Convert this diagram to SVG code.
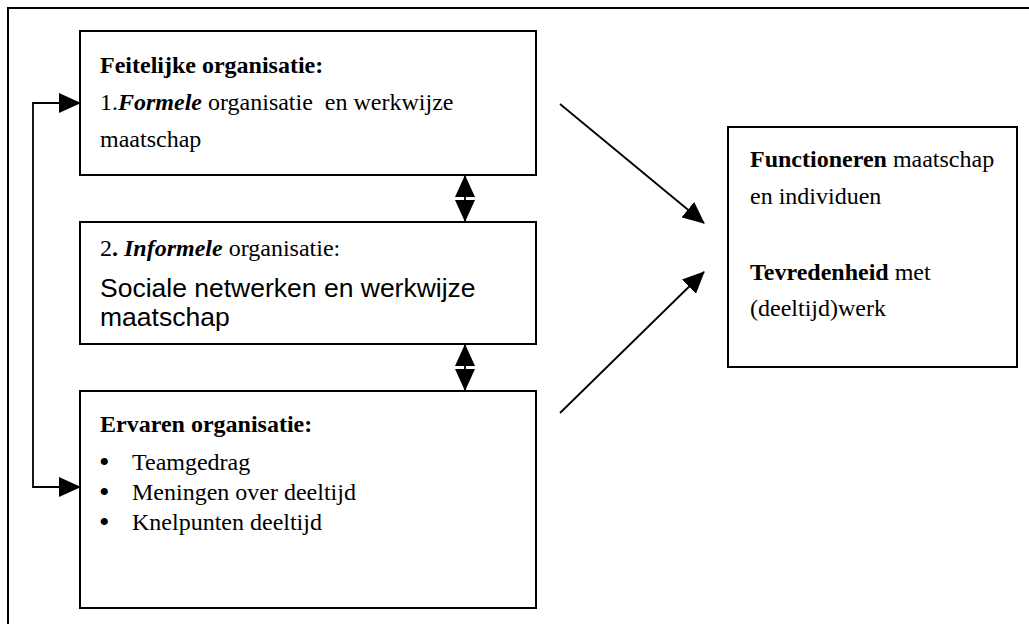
<svg xmlns="http://www.w3.org/2000/svg" width="1029" height="624" viewBox="0 0 1029 624">
  <style>
    .box { fill: #ffffff; stroke: #000000; stroke-width: 2; }
    .frame { fill: none; stroke: #000000; stroke-width: 2; }
    .conn { fill: none; stroke: #000000; stroke-width: 1.8; }
    .t { font-family: "Liberation Serif", "Times New Roman", serif; font-size: 24px; fill: #000000; white-space: pre; }
    .s { font-family: "Liberation Sans", Arial, sans-serif; font-size: 26.5px; fill: #000000; }
    .b { font-weight: bold; }
    .bi { font-weight: bold; font-style: italic; }
    .bul { font-family: "Liberation Serif", "Times New Roman", serif; font-size: 30px; fill: #000000; }
  </style>
  <defs>
    <marker id="arrow" markerUnits="userSpaceOnUse" viewBox="0 0 22 20" refX="21" refY="10" markerWidth="22" markerHeight="20" orient="auto-start-reverse">
      <path d="M0,0 L22,10 L0,20 z" fill="#000000"/>
    </marker>
  </defs>
  <rect width="1029" height="624" fill="#ffffff"/>
  <path class="frame" d="M8,624 V8 H1029"/>

  <g id="node-feitelijke">
    <rect class="box" x="80" y="31" width="456" height="144"/>
    <text class="t b" x="100" y="73">Feitelijke organisatie:</text>
    <text class="t" x="100" y="110" xml:space="preserve">1.<tspan class="bi">Formele</tspan> organisatie  en werkwijze</text>
    <text class="t" x="100" y="147">maatschap</text>
  </g>

  <g id="node-informele">
    <rect class="box" x="80" y="222" width="456" height="122"/>
    <text class="t" x="100" y="256" xml:space="preserve">2<tspan class="b">.</tspan> <tspan class="bi">Informele</tspan> organisatie:</text>
    <text class="s" x="100" y="297">Sociale netwerken en werkwijze</text>
    <text class="s" x="100" y="326">maatschap</text>
  </g>

  <g id="node-ervaren">
    <rect class="box" x="80" y="391" width="456" height="217"/>
    <text class="t b" x="100" y="432">Ervaren organisatie:</text>
    <text class="bul" x="99" y="472">•</text>
    <text class="t" x="132" y="470">Teamgedrag</text>
    <text class="bul" x="99" y="502">•</text>
    <text class="t" x="132" y="500">Meningen over deeltijd</text>
    <text class="bul" x="99" y="532">•</text>
    <text class="t" x="132" y="530">Knelpunten deeltijd</text>
  </g>

  <g id="node-functioneren">
    <rect class="box" x="728" y="127" width="289" height="240"/>
    <text class="t" x="750" y="167"><tspan class="b">Functioneren</tspan> maatschap</text>
    <text class="t" x="750" y="204">en individuen</text>
    <text class="t" x="750" y="280"><tspan class="b">Tevredenheid</tspan> met</text>
    <text class="t" x="750" y="316">(deeltijd)werk</text>
  </g>

  <g id="connectors">
    <path class="conn" d="M80,103 H33 V487 H80" marker-start="url(#arrow)" marker-end="url(#arrow)"/>
    <line class="conn" x1="465" y1="176" x2="465" y2="221" marker-start="url(#arrow)" marker-end="url(#arrow)"/>
    <line class="conn" x1="465" y1="345" x2="465" y2="390" marker-start="url(#arrow)" marker-end="url(#arrow)"/>
    <line class="conn" x1="560" y1="104" x2="704" y2="223" marker-end="url(#arrow)"/>
    <line class="conn" x1="560" y1="413" x2="704" y2="272" marker-end="url(#arrow)"/>
  </g>
</svg>
